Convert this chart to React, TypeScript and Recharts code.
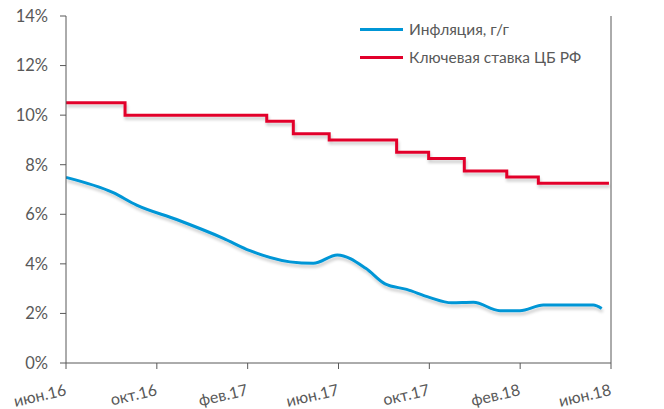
import React from 'react';
import { LineChart, Line, XAxis, YAxis, Legend } from 'recharts';

const FONT = 'Lato, "Open Sans", sans-serif';
const TEXT = '#595959';
const AXIS = '#595959';

const tickMonths = [0, 4, 8, 12, 16, 20, 24];
const tickLabels = ['июн.16', 'окт.16', 'фев.17', 'июн.17', 'окт.17', 'фев.18', 'июн.18'];
const yTicks = [0, 2, 4, 6, 8, 10, 12, 14];

const seriesNames = ['Инфляция, г/г', 'Ключевая ставка ЦБ РФ'];
const seriesColors = ['#0096d6', '#e2002b'];

const inflationMonths = [0, 2.08, 3.11, 4.87, 6.93, 8.1, 9.86, 10.89, 11.95, 13.2, 14.05, 15.0, 16.0, 16.98, 17.94, 19.11, 19.99, 21.02, 23.22, 23.59];
const inflationValues = [7.49, 6.87, 6.37, 5.79, 5.03, 4.53, 4.08, 4.02, 4.36, 3.82, 3.19, 2.97, 2.65, 2.43, 2.45, 2.11, 2.11, 2.34, 2.34, 2.2];

const keyRateMonths = [0, 2.6, 8.84, 10.01, 11.59, 14.56, 15.97, 17.54, 19.41, 20.8, 23.91];
const keyRateValues = [10.5, 10.0, 9.75, 9.25, 9.0, 8.5, 8.25, 7.75, 7.5, 7.25, 7.25];

const inflationData = inflationMonths.map((m, i) => ({ m, v: inflationValues[i] }));
const keyRateData = keyRateMonths.map((m, i) => ({ m, v: keyRateValues[i] }));

const XTick = (props: any) => {
  const { x, y, payload } = props;
  const idx = tickMonths.indexOf(payload.value);
  return (
    <g transform={`translate(${x + 1},${y + 24})`}>
      <text textAnchor="end" transform="rotate(-13)" fill={TEXT} fontSize={16} fontFamily={FONT}>
        {tickLabels[idx]}
      </text>
    </g>
  );
};

const LegendContent = () => (
  <div style={{ fontFamily: FONT, fontSize: 15.5, color: TEXT }}>
    {seriesNames.map((n, i) => (
      <div key={n} style={{ display: 'flex', alignItems: 'center', height: 28 }}>
        <div style={{ width: 43, height: 3, background: seriesColors[i], marginRight: 6 }} />
        <span style={{ whiteSpace: 'nowrap' }}>{n}</span>
      </div>
    ))}
  </div>
);

export default function App() {
  return (
    <div style={{ position: 'absolute', left: 0, top: 0, background: '#fff' }}>
      <LineChart width={664} height={409} margin={{ top: 16, right: 0, bottom: 0, left: 0 }}>
        <defs>
          <filter id="shadow" x="-5%" y="-20%" width="110%" height="160%">
            <feGaussianBlur in="SourceAlpha" stdDeviation="1.5" />
            <feOffset dx="1" dy="3" result="off" />
            <feComponentTransfer>
              <feFuncA type="linear" slope="0.2" />
            </feComponentTransfer>
            <feMerge>
              <feMergeNode />
              <feMergeNode in="SourceGraphic" />
            </feMerge>
          </filter>
        </defs>
        <XAxis
          dataKey="m"
          type="number"
          domain={[0, 24]}
          ticks={tickMonths}
          interval={0}
          height={46}
          tickSize={6}
          tickMargin={2}
          stroke={AXIS}
          tick={<XTick />}
          allowDataOverflow
        />
        <YAxis
          yAxisId="left"
          orientation="left"
          domain={[0, 14]}
          ticks={yTicks}
          width={66}
          tickSize={6}
          tickMargin={12}
          stroke={AXIS}
          tick={{ fill: TEXT, fontSize: 16.5, fontFamily: FONT }}
          tickFormatter={(v: number) => `${v}%`}
        />
        <YAxis
          yAxisId="right"
          orientation="right"
          domain={[0, 14]}
          ticks={yTicks}
          width={53}
          tickSize={6}
          tickMargin={13}
          stroke={AXIS}
          tick={{ fill: TEXT, fontSize: 16.5, fontFamily: FONT, textAnchor: 'start' }}
          tickFormatter={(v: number) => `${v}%`}
        />
        <Legend
          layout="vertical"
          align="center"
          verticalAlign="middle"
          content={<LegendContent />}
          wrapperStyle={{ left: 360, top: 15, width: 260 }}
        />
        <Line
          yAxisId="left"
          data={keyRateData}
          dataKey="v"
          name={seriesNames[1]}
          type="stepAfter"
          stroke={seriesColors[1]}
          strokeWidth={3}
          dot={false}
          filter="url(#shadow)"
          isAnimationActive={false}
        />
        <Line
          yAxisId="left"
          data={inflationData}
          dataKey="v"
          name={seriesNames[0]}
          type="monotone"
          stroke={seriesColors[0]}
          strokeWidth={3}
          dot={false}
          filter="url(#shadow)"
          isAnimationActive={false}
        />
      </LineChart>
    </div>
  );
}
